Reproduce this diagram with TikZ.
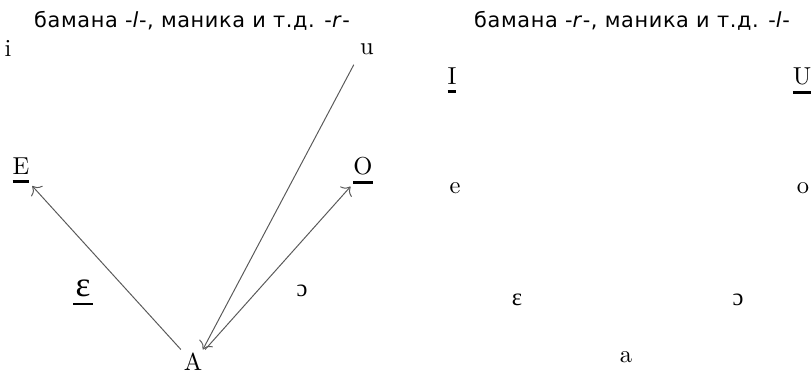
\documentclass[tikz,border=0pt]{standalone}
\usepackage{fontspec}
\usetikzlibrary{arrows.meta}
\newfontfamily\titlefont[LetterSpace=3]{DejaVu Sans}
\newfontfamily\ipafont{Liberation Serif}
\newcommand{\ulvowel}[1]{\setbox0\hbox{#1}\vtop{\copy0\kern2.2pt\hrule height 1.1pt width \wd0}}

\begin{document}
\begin{tikzpicture}[x=0.408pt, y=-0.408pt,
    vowel/.style   = {inner sep = 1pt, anchor = base},
    heading/.style = {anchor = base, font = \titlefont\fontsize{8.5}{10}\selectfont},
    arr/.style     = {-{To[length=3pt]}, draw = black!65, line width = 0.4pt}
  ]
  \useasboundingbox (0,0) rectangle (812,377);

  % левая схема
  \node[heading] (lefttitle) at (192,28) {бамана -\textit{l}-, маника и т.д. -\textit{r}-};
  \node[vowel] (li)  at (8,57)    {i};
  \node[vowel] (lu)  at (367,55)  {u};
  \node[vowel] (lE)  at (21,175)  {\ulvowel{E}};
  \node[vowel] (lO)  at (363,175) {\ulvowel{O}};
  \node[vowel] (lep) at (83,297)  {\ulvowel{\Large\kern1pt\ipafont ɛ\kern1pt}};
  \node[vowel] (lo)  at (302,297) {\ipafont ɔ};
  \node[vowel] (lA)  at (193,370) {A};

  % правая схема
  \node[heading] (righttitle) at (632,28) {бамана -\textit{r}-, маника и т.д. -\textit{l}-};
  \node[vowel] (rI)  at (452,85)  {\ulvowel{I}};
  \node[vowel] (rU)  at (802,85)  {\ulvowel{U}};
  \node[vowel] (re)  at (455,194) {e};
  \node[vowel] (ro)  at (803,194) {o};
  \node[vowel] (rep) at (517,306) {\ipafont ɛ};
  \node[vowel] (rop) at (738,306) {\ipafont ɔ};
  \node[vowel] (ra)  at (626,362) {a};

  % стрелки
  \draw[arr] (lA.north west) -- (lE.south east);
  \draw[arr, shorten <=3pt] (lu.south west) -- (lA.50);
  \draw[arr] (lA.north east) -- (lO.south west);
\end{tikzpicture}
\end{document}
